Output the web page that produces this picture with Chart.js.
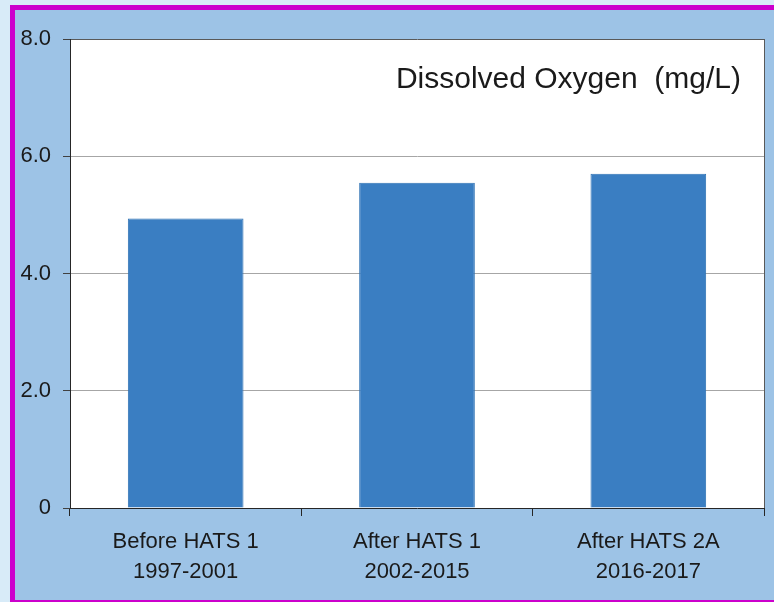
<!DOCTYPE html>
<html>
<head>
<meta charset="utf-8">
<script src="https://cdn.jsdelivr.net/npm/chart.js@4/dist/chart.umd.min.js"></script>
<style>
  html, body { margin: 0; padding: 0; background: #d8ebf8; }
  canvas { display: block; }
</style>
</head>
<body>
<canvas id="doChart" width="774" height="602"></canvas>
<script>
// data
const categories = [
    ['Before HATS 1', '1997-2001'],
    ['After HATS 1', '2002-2015'],
    ['After HATS 2A', '2016-2017'],
]
const doValues = [4.94, 5.55, 5.70]
const yTickValues = [0, 2, 4, 6, 8]
const chartTitle = 'Dissolved Oxygen  (mg/L)'

const fontFamily = '"Liberation Sans", Arial, sans-serif'

// frame, plot background, right border and inner title
const framePlugin = {
    id: 'frame',
    beforeDraw(chart) {
        const c = chart.ctx
        const a = chart.chartArea
        c.save()
        c.fillStyle = '#d8ebf8'
        c.fillRect(0, 0, chart.width, chart.height)
        c.fillStyle = '#cc00cc'
        c.fillRect(10, 5, chart.width - 10, chart.height - 5)
        c.fillStyle = '#9dc3e6'
        c.fillRect(15, 10, chart.width - 15, chart.height - 12)
        c.fillStyle = '#ffffff'
        c.fillRect(a.left, a.top, a.right - a.left, a.bottom - a.top)
        c.restore()
    },
    afterDraw(chart) {
        const c = chart.ctx
        const a = chart.chartArea
        c.save()
        c.strokeStyle = '#595959'
        c.lineWidth = 1
        c.beginPath()
        c.moveTo(a.right + 0.5, a.top)
        c.lineTo(a.right + 0.5, a.bottom)
        c.stroke()
        c.fillStyle = '#1a1a1a'
        c.font = '30px ' + fontFamily
        c.textAlign = 'right'
        c.textBaseline = 'alphabetic'
        c.fillText(chartTitle, a.right - 23, a.top + 49)
        c.restore()
    },
}

const doChart = new Chart(document.getElementById('doChart').getContext('2d'), {
    type: 'bar',
    data: {
        labels: categories,
        datasets: [
            {
                label: 'DO',
                data: doValues,
                backgroundColor: '#3a7ec2',
                borderColor: '#2e72b4',
                borderWidth: 1,
                barPercentage: 0.5,
                categoryPercentage: 1,
            },
        ],
    },
    options: {
        responsive: false,
        animation: false,
        layout: {
            padding: { left: 0, top: 39, right: 10, bottom: 0 },
        },
        plugins: {
            legend: { display: false },
            tooltip: { enabled: false },
        },
        scales: {
            x: {
                grid: {
                    offset: true,
                    drawOnChartArea: false,
                    drawTicks: true,
                    tickLength: 8,
                    tickColor: '#262626',
                },
                border: { color: '#262626', width: 1 },
                ticks: {
                    color: '#1a1a1a',
                    font: { family: fontFamily, size: 22, lineHeight: 1.36 },
                    padding: 11,
                    maxRotation: 0,
                },
                afterFit(scale) {
                    scale.height = 94
                },
            },
            y: {
                min: 0,
                max: 8,
                afterBuildTicks(scale) {
                    scale.ticks = yTickValues.map(v => ({ value: v }))
                },
                grid: {
                    color: ctx => {
                        const v = ctx.tick ? ctx.tick.value : null
                        if (v === 8) return '#595959'
                        if (v === 0) return 'rgba(0,0,0,0)'
                        return '#a6a6a6'
                    },
                    lineWidth: 1,
                    drawTicks: true,
                    tickLength: 7,
                    tickColor: '#404040',
                },
                border: { color: '#262626', width: 1 },
                ticks: {
                    color: '#1a1a1a',
                    font: { family: fontFamily, size: 22 },
                    padding: 12,
                    callback: v => (v === 0 ? '0' : v.toFixed(1)),
                },
                afterFit(scale) {
                    scale.width = 70
                },
            },
        },
    },
    plugins: [framePlugin],
})
</script>
</body>
</html>
